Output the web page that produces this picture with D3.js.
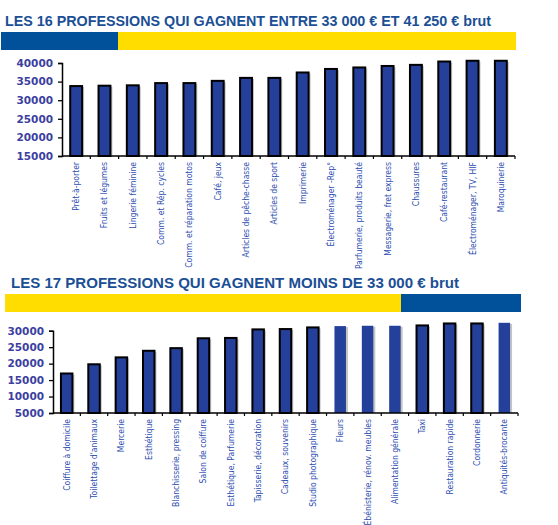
<!DOCTYPE html>
<html>
<head>
<meta charset="utf-8">
<title></title>
<script src="https://d3js.org/d3.v7.min.js"></script>
<style>
  html, body { margin: 0; padding: 0; background: #fff; }
</style>
</head>
<body>
<div id="chart"></div>
<script>
// top chart: 16 professions between 33 000 and 41 250 €
const topTitle = "LES 16 PROFESSIONS QUI GAGNENT ENTRE 33 000 € ET 41 250 € brut";
const topCategories = [
  "Prêt-à-porter", "Fruits et légumes", "Lingerie féminine", "Comm. et Rép. cycles",
  "Comm. et réparation motos", "Café, jeux", "Articles de pêche-chasse", "Articles de sport",
  "Imprimerie", "Électroménager -Rep°", "Parfumerie, produits beauté", "Messagerie, fret express",
  "Chaussures", "Café-restaurant", "Électroménager, TV, HIF", "Maroquinerie"
];
const topValues = [33800, 33900, 34000, 34600, 34600, 35200, 36000, 36000,
                   37450, 38400, 38800, 39200, 39500, 40400, 40600, 40600];
const topTicks = [15000, 20000, 25000, 30000, 35000, 40000];

// bottom chart: 17 professions under 33 000 €
const bottomTitle = "LES 17 PROFESSIONS QUI GAGNENT MOINS DE 33 000 € brut";
const bottomCategories = [
  "Coiffure à domicile", "Toilettage d'animaux", "Mercerie", "Esthétique",
  "Blanchisserie, pressing", "Salon de coiffure", "Esthétique, Parfumerie", "Tapisserie, décoration",
  "Cadeaux, souvenirs", "Studio photographique", "Fleurs", "Ébénisterie, rénov. meubles",
  "Alimentation générale", "Taxi", "Restauration rapide", "Cordonnerie", "Antiquités-brocante"
];
const bottomValues = [17000, 19800, 21900, 23900, 24700, 27700, 27800, 30400,
                      30500, 31000, 31400, 31500, 31500, 31600, 32200, 32200, 32400];
// bars drawn without the black outline
const bottomNoBorder = ["Fleurs", "Ébénisterie, rénov. meubles", "Alimentation générale", "Antiquités-brocante"];
const bottomTicks = [5000, 10000, 15000, 20000, 25000, 30000];

const W = 558, H = 525;
const blue = "#00519a", yellow = "#ffdd00", barFill = "#24409a";

const svg = d3.select("#chart").append("svg")
  .attr("width", W)
  .attr("height", H);

function drawBanner(cfg) {
  svg.append("text")
    .attr("x", cfg.titleX)
    .attr("y", cfg.titleY)
    .attr("textLength", cfg.titleW)
    .attr("lengthAdjust", "spacingAndGlyphs")
    .style("font-family", "'Liberation Sans', Arial, sans-serif")
    .style("font-weight", "bold")
    .style("font-size", "15px")
    .style("fill", "#1b4f95")
    .text(cfg.title);

  // two coloured stripes under the title
  cfg.stripes.forEach(s => {
    svg.append("rect")
      .attr("x", s.x0)
      .attr("y", cfg.bandY)
      .attr("width", s.x1 - s.x0)
      .attr("height", cfg.bandH)
      .attr("fill", s.color);
  });
}

function drawChart(cfg) {
  const x = d3.scaleBand()
    .domain(cfg.categories)
    .range([cfg.left, cfg.right])
    .paddingInner(0.58)
    .paddingOuter(0.29);

  const y = d3.scaleLinear()
    .domain(cfg.domain)
    .range([cfg.bottom, cfg.top]);

  const g = svg.append("g");

  // Y axis
  const yAxis = g.append("g")
    .attr("transform", `translate(${cfg.left},0)`)
    .call(d3.axisLeft(y).tickValues(cfg.ticks).tickSize(4).tickPadding(5).tickFormat(d3.format("d")));
  yAxis.select(".domain").attr("stroke", "#000").attr("stroke-width", 1.5);
  yAxis.selectAll(".tick line").attr("stroke", "#000").attr("stroke-width", 1.3);
  yAxis.selectAll(".tick text")
    .style("font-family", "'DejaVu Sans', Verdana, sans-serif")
    .style("font-weight", "bold")
    .style("font-size", "10.5px")
    .style("fill", "#3c3fa0");

  // shadows then bars
  const data = cfg.categories.map((c, i) => ({ cat: c, val: cfg.values[i] }));

  g.selectAll(".shadow")
    .data(data)
    .enter()
    .append("rect")
    .attr("x", d => x(d.cat) + 2)
    .attr("y", d => y(d.val) + 1)
    .attr("width", x.bandwidth())
    .attr("height", d => cfg.bottom - y(d.val) - 1)
    .attr("fill", "#c4c4c4");

  g.selectAll(".bar")
    .data(data)
    .enter()
    .append("rect")
    .attr("x", d => x(d.cat))
    .attr("y", d => y(d.val))
    .attr("width", x.bandwidth())
    .attr("height", d => cfg.bottom - y(d.val))
    .attr("fill", barFill)
    .attr("stroke", d => cfg.noBorder.includes(d.cat) ? "none" : "#000")
    .attr("stroke-width", 2);

  // X axis line with small ticks between categories
  g.append("line")
    .attr("x1", cfg.left).attr("x2", cfg.right)
    .attr("y1", cfg.bottom).attr("y2", cfg.bottom)
    .attr("stroke", "#000").attr("stroke-width", 1.5);

  const step = x.step();
  g.selectAll(".xtick")
    .data(cfg.categories)
    .enter()
    .append("line")
    .attr("x1", d => x(d) + x.bandwidth() / 2 + step / 2)
    .attr("x2", d => x(d) + x.bandwidth() / 2 + step / 2)
    .attr("y1", cfg.bottom)
    .attr("y2", cfg.bottom + 3)
    .attr("stroke", "#000").attr("stroke-width", 1.2);

  // rotated category labels
  g.selectAll(".xlab")
    .data(cfg.categories)
    .enter()
    .append("text")
    .attr("transform", d => `translate(${x(d) + x.bandwidth() / 2},${cfg.bottom + 6}) rotate(-90)`)
    .attr("dy", "0.35em")
    .attr("text-anchor", "end")
    .style("font-family", "'Liberation Sans Narrow', 'Arial Narrow', 'DejaVu Sans Condensed', sans-serif")
    .style("font-stretch", "condensed")
    .style("font-size", "8.5px")
    .style("fill", "#2a4cb0")
    .text(d => d);
}

drawBanner({
  title: topTitle, titleX: 5, titleY: 26, titleW: 486, bandY: 32, bandH: 18,
  stripes: [{ x0: 1, x1: 118, color: blue }, { x0: 118, x1: 516, color: yellow }]
});
drawChart({
  categories: topCategories, values: topValues, ticks: topTicks, noBorder: [],
  domain: [15000, 40000], left: 62, right: 515, top: 63, bottom: 156
});

drawBanner({
  title: bottomTitle, titleX: 11, titleY: 288, titleW: 448, bandY: 294, bandH: 18,
  stripes: [{ x0: 5, x1: 401, color: yellow }, { x0: 401, x1: 521, color: blue }]
});
drawChart({
  categories: bottomCategories, values: bottomValues, ticks: bottomTicks, noBorder: bottomNoBorder,
  domain: [5000, 30000], left: 53, right: 518, top: 330.7, bottom: 413
});
</script>
</body>
</html>
